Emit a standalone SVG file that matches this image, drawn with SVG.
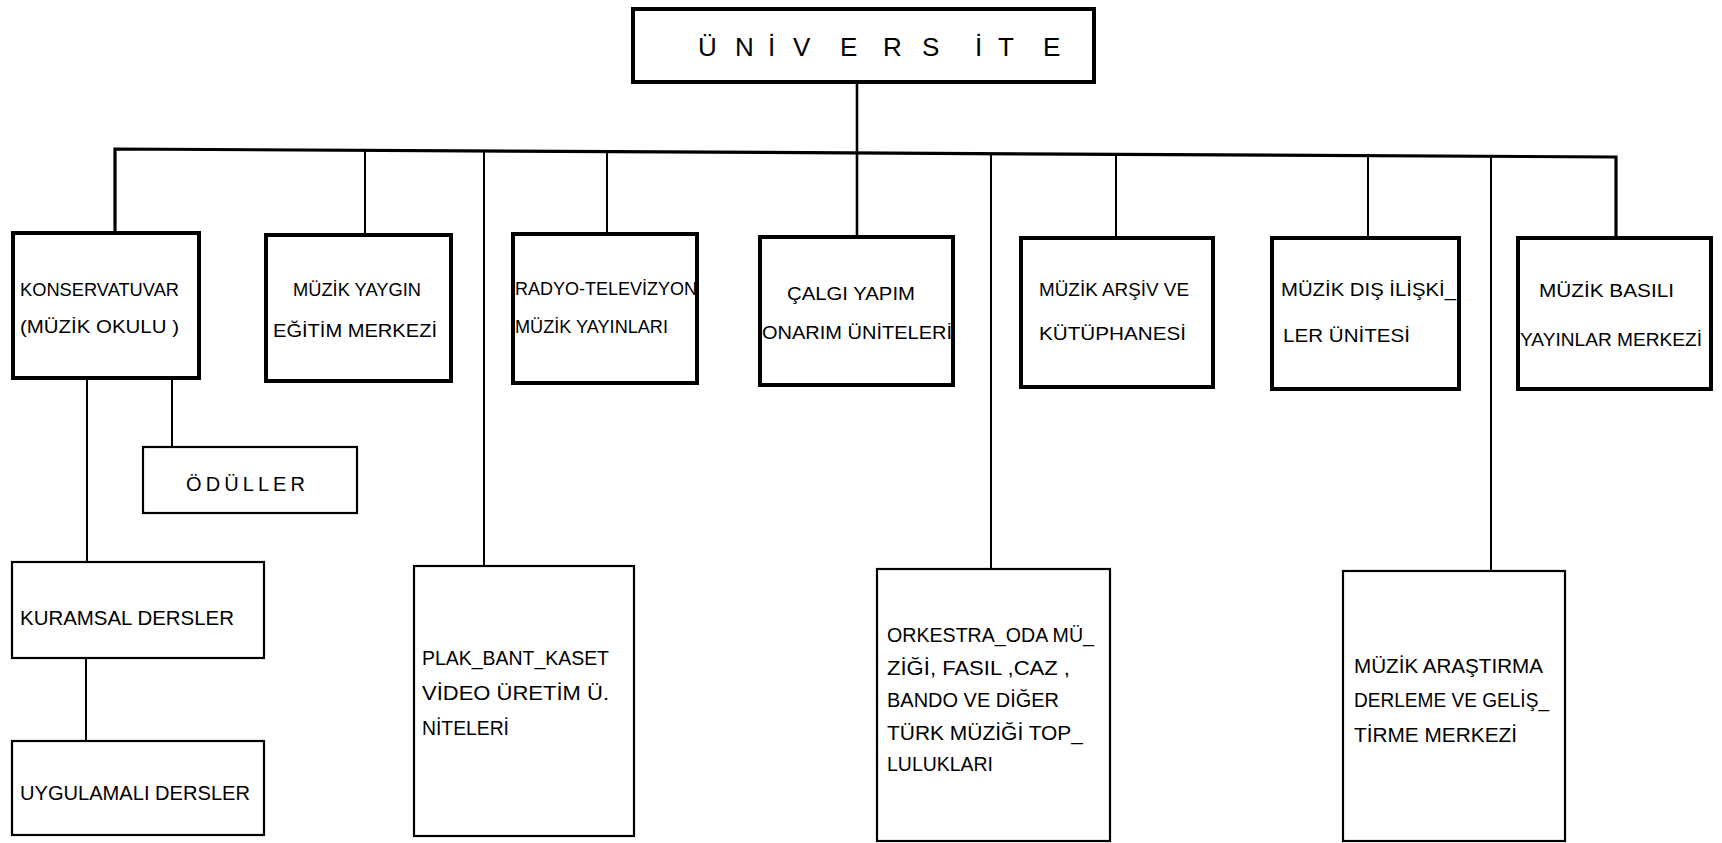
<svg xmlns="http://www.w3.org/2000/svg" width="1722" height="843" viewBox="0 0 1722 843">
<style>
.b1{fill:#fff;stroke:#000;stroke-width:4}
.b2{fill:#fff;stroke:#000;stroke-width:2.2}
.ln{stroke:#000;stroke-width:2;fill:none}
.bus{stroke:#000;stroke-width:3.2;fill:none}
.t{font-family:"Liberation Sans","DejaVu Sans",sans-serif;font-size:18px;fill:#000}
.t2{font-family:"Liberation Sans","DejaVu Sans",sans-serif;font-size:20px;fill:#000}
.tu{font-family:"Liberation Sans","DejaVu Sans",sans-serif;font-size:26px;fill:#000}
</style>
<rect width="1722" height="843" fill="#fff"/>
<g id="connectors">
<polyline class="bus" points="115,237 115,149 1616,157 1616,238"/>
<line class="ln" x1="857" y1="82" x2="857" y2="237" style="stroke-width:2.6"/>
<line class="ln" x1="365" y1="150" x2="365" y2="235"/>
<line class="ln" x1="484" y1="151" x2="484" y2="566"/>
<line class="ln" x1="607" y1="151.6" x2="607" y2="234"/>
<line class="ln" x1="991" y1="153.7" x2="991" y2="569"/>
<line class="ln" x1="1116" y1="154.3" x2="1116" y2="238"/>
<line class="ln" x1="1368" y1="155.7" x2="1368" y2="238"/>
<line class="ln" x1="1491" y1="156.3" x2="1491" y2="571"/>
<line class="ln" x1="87" y1="378" x2="87" y2="562"/>
<line class="ln" x1="172" y1="378" x2="172" y2="447"/>
<line class="ln" x1="86" y1="658" x2="86" y2="741"/>
</g>
<g id="universite">
<rect class="b1" x="633" y="9" width="461" height="73"/>
<text class="tu" x="698 735 768 793 840 883 922 975 998 1043" y="56">ÜNİVERSİTE</text>
</g>
<g id="konservatuvar">
<rect class="b1" x="13" y="233" width="186" height="145"/>
<text class="t" x="20" y="296" textLength="159" lengthAdjust="spacingAndGlyphs">KONSERVATUVAR</text>
<text class="t" x="20" y="333" textLength="159" lengthAdjust="spacingAndGlyphs">(MÜZİK OKULU )</text>
</g>
<g id="yaygin">
<rect class="b1" x="266" y="235" width="185" height="146"/>
<text class="t" x="293" y="296" textLength="128" lengthAdjust="spacingAndGlyphs">MÜZİK YAYGIN</text>
<text class="t" x="273" y="337" textLength="164" lengthAdjust="spacingAndGlyphs">EĞİTİM MERKEZİ</text>
</g>
<g id="radyo">
<rect class="b1" x="513" y="234" width="184" height="149"/>
<text class="t" x="515" y="295" textLength="182" lengthAdjust="spacingAndGlyphs">RADYO-TELEVİZYON</text>
<text class="t" x="515" y="333" textLength="153" lengthAdjust="spacingAndGlyphs">MÜZİK YAYINLARI</text>
</g>
<g id="calgi">
<rect class="b1" x="760" y="237" width="193" height="148"/>
<text class="t" x="787" y="300" textLength="128" lengthAdjust="spacingAndGlyphs">ÇALGI YAPIM</text>
<text class="t" x="762" y="339" textLength="190" lengthAdjust="spacingAndGlyphs">ONARIM ÜNİTELERİ</text>
</g>
<g id="arsiv">
<rect class="b1" x="1021" y="238" width="192" height="149"/>
<text class="t" x="1039" y="296" textLength="150" lengthAdjust="spacingAndGlyphs">MÜZİK ARŞİV VE</text>
<text class="t" x="1039" y="340" textLength="147" lengthAdjust="spacingAndGlyphs">KÜTÜPHANESİ</text>
</g>
<g id="dis">
<rect class="b1" x="1272" y="238" width="187" height="151"/>
<text class="t" x="1281" y="296" textLength="175" lengthAdjust="spacingAndGlyphs">MÜZİK DIŞ İLİŞKİ_</text>
<text class="t" x="1283" y="342" textLength="127" lengthAdjust="spacingAndGlyphs">LER ÜNİTESİ</text>
</g>
<g id="basili">
<rect class="b1" x="1518" y="238" width="193" height="151"/>
<text class="t" x="1539" y="297" textLength="135" lengthAdjust="spacingAndGlyphs">MÜZİK BASILI</text>
<text class="t" x="1520" y="346" textLength="182" lengthAdjust="spacingAndGlyphs">YAYINLAR MERKEZİ</text>
</g>
<g id="oduller">
<rect class="b2" x="143" y="447" width="214" height="66"/>
<text class="t2" x="186" y="491" textLength="119" lengthAdjust="spacing">ÖDÜLLER</text>
</g>
<g id="kuramsal">
<rect class="b2" x="12" y="562" width="252" height="96"/>
<text class="t2" x="20" y="625" textLength="214" lengthAdjust="spacingAndGlyphs">KURAMSAL DERSLER</text>
</g>
<g id="uygulamali">
<rect class="b2" x="12" y="741" width="252" height="94"/>
<text class="t2" x="20" y="800" textLength="230" lengthAdjust="spacingAndGlyphs">UYGULAMALI DERSLER</text>
</g>
<g id="plak">
<rect class="b2" x="414" y="566" width="220" height="270"/>
<text class="t2" x="422" y="665" textLength="187" lengthAdjust="spacingAndGlyphs">PLAK_BANT_KASET</text>
<text class="t2" x="422" y="700" textLength="187" lengthAdjust="spacingAndGlyphs">VİDEO  ÜRETİM Ü.</text>
<text class="t2" x="422" y="735" textLength="87" lengthAdjust="spacingAndGlyphs">NİTELERİ</text>
</g>
<g id="orkestra">
<rect class="b2" x="877" y="569" width="233" height="272"/>
<text class="t2" x="887" y="642" textLength="207" lengthAdjust="spacingAndGlyphs">ORKESTRA_ODA MÜ_</text>
<text class="t2" x="887" y="675" textLength="183" lengthAdjust="spacingAndGlyphs">ZİĞİ, FASIL ,CAZ ,</text>
<text class="t2" x="887" y="707" textLength="172" lengthAdjust="spacingAndGlyphs">BANDO VE DİĞER</text>
<text class="t2" x="887" y="740" textLength="196" lengthAdjust="spacingAndGlyphs">TÜRK MÜZİĞİ TOP_</text>
<text class="t2" x="887" y="771" textLength="106" lengthAdjust="spacingAndGlyphs">LULUKLARI</text>
</g>
<g id="arastirma">
<rect class="b2" x="1343" y="571" width="222" height="270"/>
<text class="t2" x="1354" y="673" textLength="189" lengthAdjust="spacingAndGlyphs">MÜZİK ARAŞTIRMA</text>
<text class="t2" x="1354" y="707" textLength="195" lengthAdjust="spacingAndGlyphs">DERLEME VE GELİŞ_</text>
<text class="t2" x="1354" y="742" textLength="163" lengthAdjust="spacingAndGlyphs">TİRME MERKEZİ</text>
</g>
</svg>
